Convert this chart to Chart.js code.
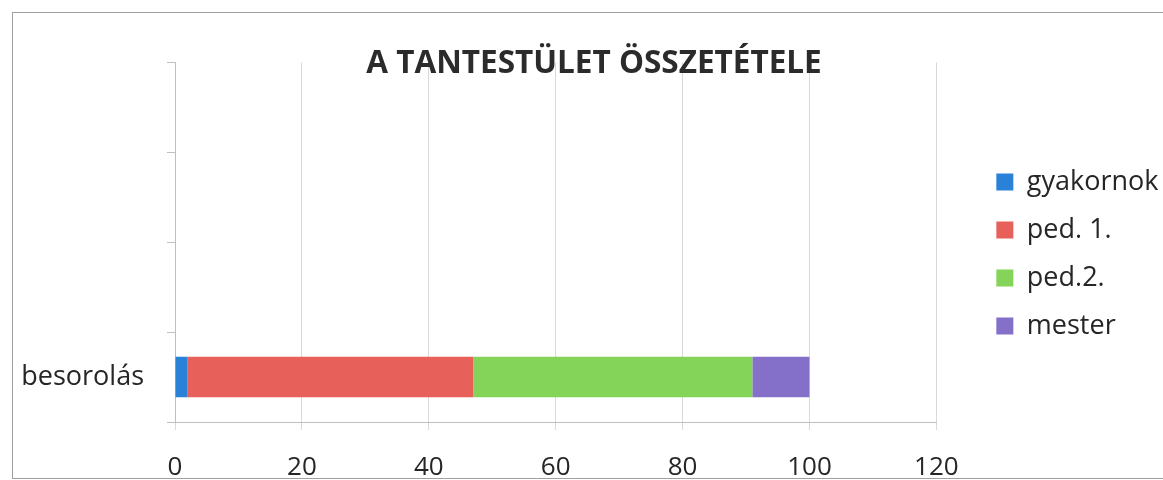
<!DOCTYPE html>
<html>
<head>
<meta charset="utf-8">
<script src="https://cdn.jsdelivr.net/npm/chart.js@4"></script>
<style>
  html, body { margin: 0; padding: 0; background: #fff; overflow: hidden; }
  #frame { position: absolute; left: 12px; top: 12px; width: 1170px; height: 465px; border: 1px solid #a0a0a0; pointer-events: none; }
  #wrap { position: absolute; left: 0; top: 0; width: 1163px; height: 480px; }
</style>
</head>
<body>
<div id="frame"></div>
<div id="wrap"><canvas id="myChart" width="1163" height="480"></canvas></div>
<script>
// categories (Excel shows 4 slots, only the bottom one is filled)
var categories = ["", "", "", "besorolás"];
var seriesNames = ["gyakornok", "ped. 1.", "ped.2.", "mester"];
var gyakornok = [null, null, null, 2];
var ped1 = [null, null, null, 45];
var ped2 = [null, null, null, 44];
var mester = [null, null, null, 9];
var xTicks = [0, 20, 40, 60, 80, 100, 120];

var colors = ["#2a82d8", "#e8605a", "#84d45a", "#8470c8"];
var font = "'Open Sans', sans-serif";

var ctx = document.getElementById("myChart").getContext("2d");
var chart = new Chart(ctx, {
    type: "bar",
    data: {
        labels: categories,
        datasets: [
            { label: seriesNames[0], data: gyakornok, backgroundColor: colors[0] },
            { label: seriesNames[1], data: ped1, backgroundColor: colors[1] },
            { label: seriesNames[2], data: ped2, backgroundColor: colors[2] },
            { label: seriesNames[3], data: mester, backgroundColor: colors[3] }
        ]
    },
    options: {
        indexAxis: "y",
        responsive: false,
        animation: false,
        categoryPercentage: 1,
        barPercentage: 0.45,
        // uneven left/right padding keeps the title centred where Excel put it
        layout: { padding: { left: 22, right: -3, top: 0, bottom: 0 } },
        scales: {
            x: {
                stacked: true,
                min: xTicks[0],
                max: xTicks[xTicks.length - 1],
                afterBuildTicks: function(scale){
                    scale.ticks = xTicks.map(function(v){ return { value: v }; });
                },
                grid: { color: "#d9d9d9", tickLength: 8, tickColor: "#d9d9d9" },
                border: { color: "#bfbfbf" },
                ticks: { color: "#262626", font: { family: font, size: 26 }, padding: 22, maxRotation: 0 },
                afterFit: function(scale){ scale.height = 58; }
            },
            y: {
                stacked: true,
                grid: { drawOnChartArea: false, tickLength: 8, color: "#bfbfbf" },
                border: { color: "#bfbfbf" },
                ticks: { color: "#262626", font: { family: font, size: 27 }, padding: 23, autoSkip: false },
                afterFit: function(scale){ scale.width = 153; }
            },
            spacer: {
                type: "linear",
                position: "right",
                display: true,
                grid: { display: false },
                border: { display: false },
                ticks: { display: false },
                afterFit: function(scale){ scale.width = 39; }
            }
        },
        plugins: {
            title: {
                display: true,
                text: "A TANTESTÜLET ÖSSZETÉTELE",
                color: "#2b2b2b",
                font: { family: font, size: 31.5, weight: "bold", lineHeight: 1 },
                padding: { top: 48, bottom: -17 }
            },
            legend: {
                position: "right",
                align: "center",
                title: { display: true, text: "", font: { size: 10 }, padding: { top: 8, bottom: 8 } },
                labels: {
                    color: "#262626",
                    font: { family: font, size: 27 },
                    boxWidth: 17,
                    boxHeight: 17,
                    padding: 21
                }
            },
            tooltip: { enabled: false }
        }
    }
});
</script>
</body>
</html>
